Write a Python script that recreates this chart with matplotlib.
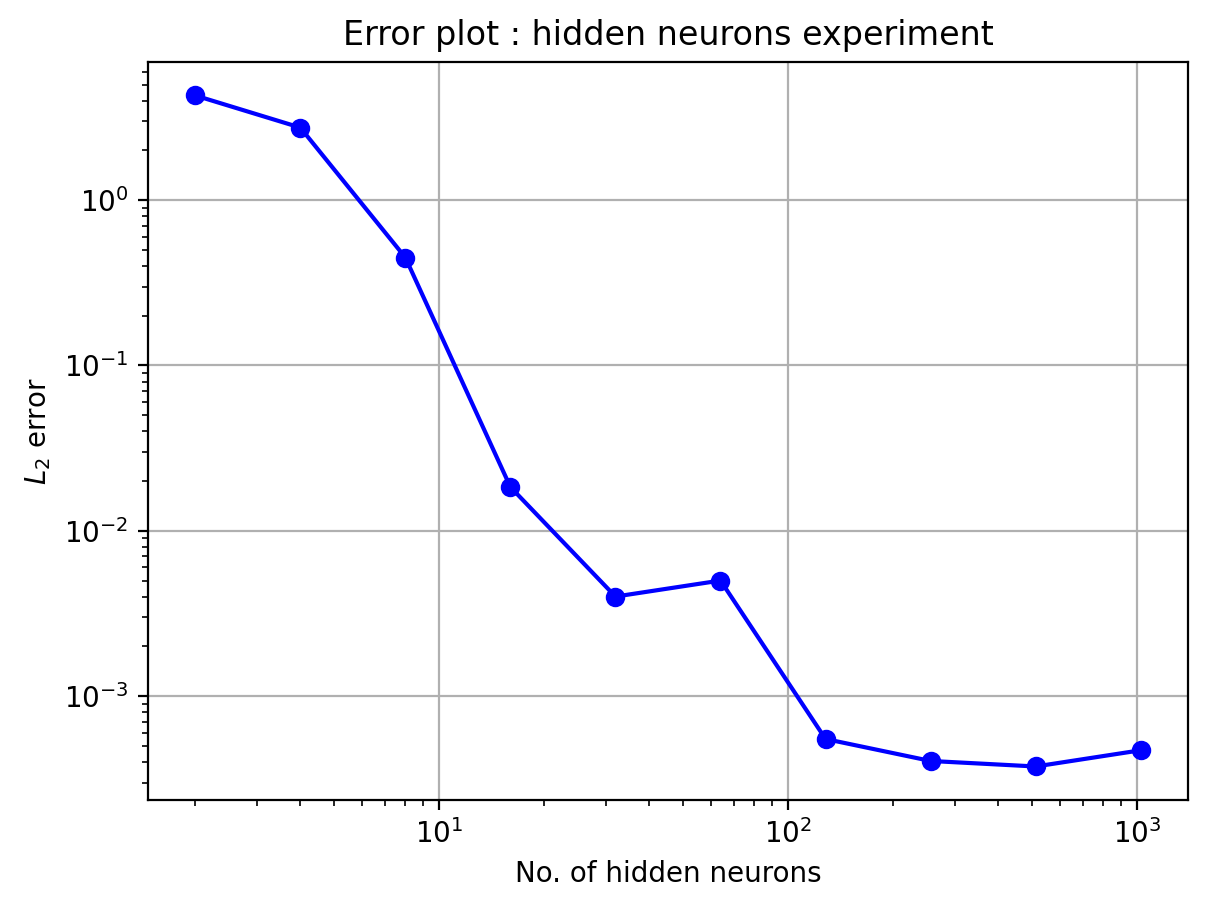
import numpy as np
import matplotlib
matplotlib.use('Agg')
import matplotlib.pyplot as plt

hidden_neurons = [2, 4, 8, 16, 32, 64, 128, 256, 512, 1024]
l2_error = [4.3, 2.75, 0.45, 0.0184, 0.0040, 0.0050, 5.5e-4, 4.05e-4, 3.75e-4, 4.7e-4]

plt.figure(figsize=(6.04, 4.555), dpi=200)
plt.loglog(hidden_neurons, l2_error, 'bo-')
plt.grid(True)
plt.title('Error plot : hidden neurons experiment')
plt.xlabel('No. of hidden neurons')
plt.ylabel('$L_2$ error')
plt.subplots_adjust(left=0.1225, right=0.9834, top=0.932, bottom=0.1218)
plt.savefig('out.png', dpi=200)
